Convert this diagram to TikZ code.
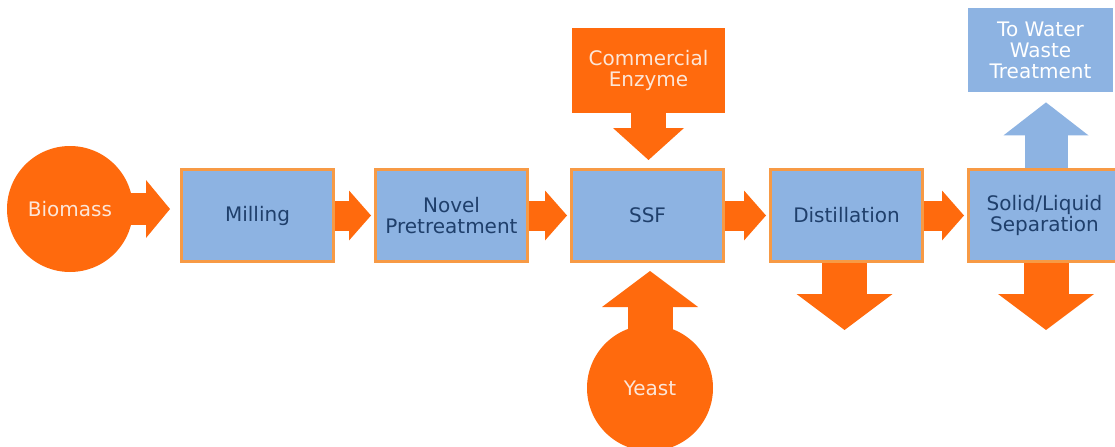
\documentclass[tikz,border=0pt]{standalone}
\usepackage{fontspec}
\setmainfont{DejaVu Sans}
\usetikzlibrary{arrows.meta}
\definecolor{ora}{HTML}{FF6A0D}
\definecolor{boxblue}{HTML}{8DB3E2}
\definecolor{boxline}{HTML}{F79A45}
\definecolor{navy}{HTML}{1F3F6B}
\definecolor{pale}{HTML}{FCE6D8}
\tikzset{
  txt/.style={align=center, font=\fontsize{10}{10.5}\selectfont},
  proc/.style={txt, rectangle, fill=boxblue, draw=boxline, line width=1.5pt, minimum width=76pt, minimum height=46pt, text=navy},
  feed/.style={txt, circle, fill=ora, minimum size=63pt, inner sep=0pt, text=pale},
  flat/.style={txt, rectangle, inner sep=0pt},
  blk/.style={draw=ora, line width=15pt, -{Triangle[length=11pt,width=25pt,line width=0pt]}},
  fat/.style={draw=ora, line width=22.5pt, -{Triangle[length=18pt,width=48pt,line width=0pt]}}
}
\begin{document}
\begin{tikzpicture}[x=0.5pt,y=0.5pt]
                        \useasboundingbox (0,0) rectangle (1115,446);
                        \clip (0,0) rectangle (1115,446);

                        \node [feed] (BIO) at (70,237) {Biomass};
                        \node [proc] (MIL) at (257.5,230.5) {Milling};
                        \node [proc] (PRE) at (451.5,230.5) {Novel\\Pretreatment};
                        \node [proc] (SSF) at (647.5,230.5) {SSF};
                        \node [proc] (DIS) at (846.5,230.5) {Distillation};
                        \node [proc] (SEP) at (1044.5,230.5) {Solid/Liquid\\Separation};

                        \node [flat, fill=ora, text=pale, minimum width=76.5pt, minimum height=42.5pt] (ENZ) at (648.5,375.5) {Commercial\\Enzyme};
                        \node [feed] (YST) at (650,58) {Yeast};
                        \node [flat, fill=boxblue, text=white, minimum width=72.5pt, minimum height=42pt] (WAT) at (1040.5,396) {To Water\\Waste\\Treatment};

                        \coordinate (DOUT) at (844.5,116);
                        \coordinate (SOUT) at (1046,116);

                        \draw[blk, line width=16pt, -{Triangle[length=12pt,width=29pt,line width=0pt]}, shorten >= 5pt] ([xshift=-3pt]BIO.east) -- (BIO.east -| MIL.west);
                        \draw[blk, shorten >= 1.5pt] (MIL.east) -- (PRE.west);
                        \draw[blk, shorten >= 1.5pt] (PRE.east) -- (SSF.west);
                        \draw[blk, shorten >= 1.5pt] (SSF.east) -- (DIS.west);
                        \draw[blk, shorten >= 1.5pt] (DIS.east) -- (SEP.west);

                        \draw[fat, line width=17.5pt, -{Triangle[length=16pt,width=35.5pt,line width=0pt]}, shorten >= 4pt] (ENZ.south) -- (ENZ.south |- SSF.north);
                        \draw[fat, shorten >= 4pt] ([yshift=-4pt]YST.north) -- (YST.north |- SSF.south);
                        \draw[fat] (DIS.south -| DOUT) -- (DOUT);
                        \draw[fat] (SEP.south -| SOUT) -- (SOUT);
                        \draw[fat, draw=boxblue, line width=21.5pt, -{Triangle[length=16.5pt,width=42.5pt,line width=0pt]}, shorten >= 5pt] (SEP.north -| SOUT) -- (WAT.south -| SOUT);
                      \end{tikzpicture}
\end{document}
